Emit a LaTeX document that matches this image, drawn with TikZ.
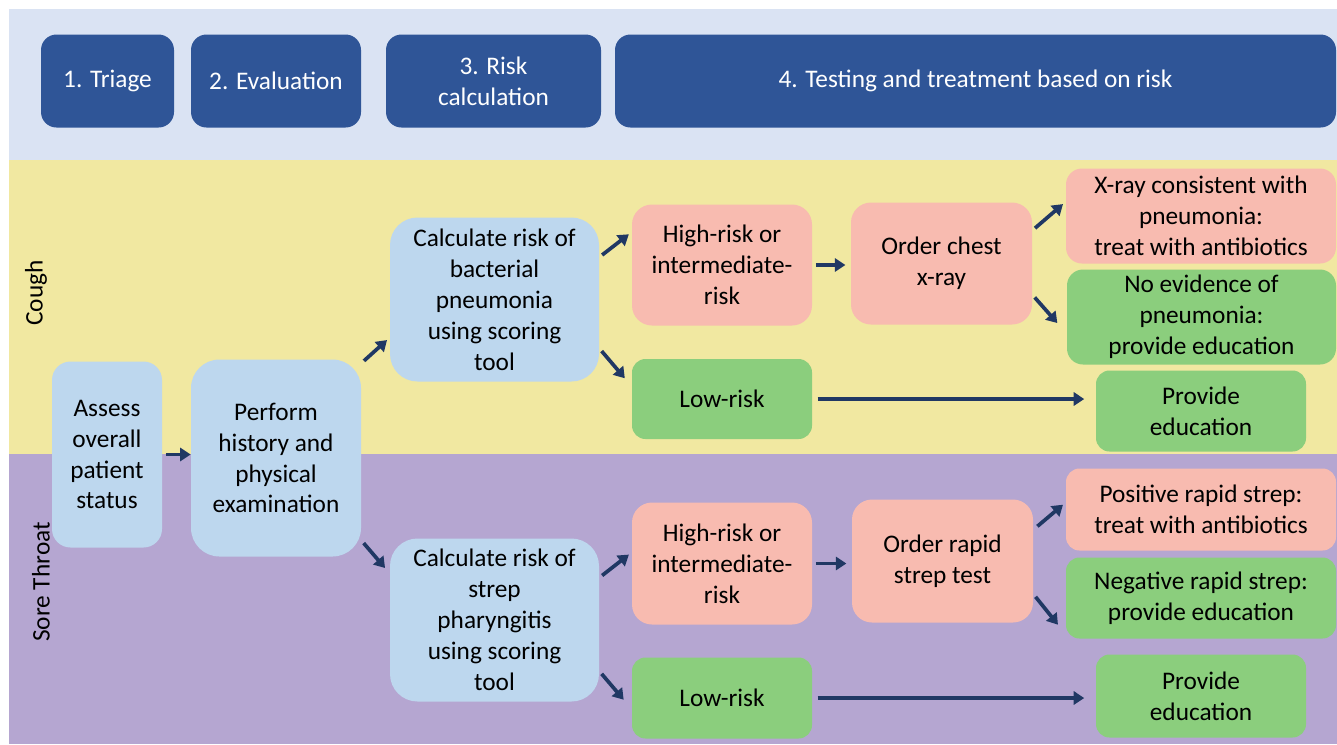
\documentclass[tikz,border=0pt]{standalone}
\usepackage{fontspec}
\setmainfont{Carlito}
\usetikzlibrary{arrows.meta}

\definecolor{bandblue}{HTML}{DAE3F3}
\definecolor{bandyellow}{HTML}{F1E8A1}
\definecolor{bandpurple}{HTML}{B5A6D1}
\definecolor{headblue}{HTML}{2F5597}
\definecolor{stepblue}{HTML}{BDD7EE}
\definecolor{riskpink}{HTML}{F8BBB0}
\definecolor{safegreen}{HTML}{8BCE7D}
\definecolor{arrownavy}{HTML}{203864}

\begin{document}
\begin{tikzpicture}[
    font=\fontsize{14.4}{17.6}\selectfont,
    box/.style={inner sep=0pt, align=center, text=black},
    head/.style={box, fill=headblue, text=white, minimum height=1.86cm, rounded corners=0.31cm},
    stepbox/.style={box, fill=stepblue},
    riskbox/.style={box, fill=riskpink},
    safebox/.style={box, fill=safegreen},
    lane/.style={inner sep=0pt, rotate=90},
    arr/.style={draw=arrownavy, line width=2.1pt, -{Triangle[length=6pt,width=7.5pt]},
        shorten <=2pt, shorten >=2pt}
]
% Background
\useasboundingbox (0,0) rectangle (26.74,-14.88);
\fill[bandblue] (0.18,-0.18) rectangle (26.74,-3.20);
\fill[bandyellow] (0.18,-3.20) rectangle (26.74,-9.08);
\fill[bandpurple] (0.18,-9.08) rectangle (26.74,-14.88);

% Header
\node[head, minimum width=2.66cm] (triage) at (2.15, -1.62) {1. Triage};
\node[head, minimum width=3.40cm] (evalh) at (5.52, -1.62) {2. Evaluation};
\node[head, minimum width=4.30cm] (riskh) at (9.87, -1.62) {3. Risk\\calculation};
\node[head, minimum width=14.42cm] (testh) at (19.51, -1.62) {4. Testing and treatment based on risk};

% Lanes
\node[lane] (cough) at (0.72, -5.86) {Cough};
\node[lane] (sore) at (0.82, -11.64) {Sore Throat};

% Nodes
\node[stepbox, minimum width=2.20cm, minimum height=3.72cm, rounded corners=0.37cm] (assess) at (2.14, -9.09) {Assess\\overall\\patient\\status};
\node[stepbox, minimum width=3.40cm, minimum height=3.94cm, rounded corners=0.57cm] (perform) at (5.52, -9.16) {Perform\\history and\\physical\\examination};
\node[stepbox, minimum width=4.18cm, minimum height=3.28cm, rounded corners=0.55cm] (calcp) at (9.89, -5.99) {Calculate risk of\\bacterial\\pneumonia\\using scoring\\tool};
\node[stepbox, minimum width=4.18cm, minimum height=3.26cm, rounded corners=0.55cm] (calcs) at (9.89, -12.40) {Calculate risk of\\strep\\pharyngitis\\using scoring\\tool};

\node[riskbox, minimum width=3.60cm, minimum height=2.42cm, rounded corners=0.40cm] (highc) at (14.44, -5.30) {High-risk or\\intermediate-\\risk};
\node[safebox, minimum width=3.60cm, minimum height=1.60cm, rounded corners=0.27cm] (lowc) at (14.44, -7.98) {Low-risk};
\node[riskbox, minimum width=3.62cm, minimum height=2.44cm, rounded corners=0.40cm] (orderc) at (18.83, -5.27) {Order chest\\x-ray};
\node[riskbox, minimum width=5.40cm, minimum height=1.90cm, rounded corners=0.32cm] (xray) at (24.02, -4.32) {X-ray consistent with\\pneumonia:\\treat with antibiotics};
\node[safebox, minimum width=5.38cm, minimum height=1.90cm, rounded corners=0.32cm] (noev) at (24.03, -6.34) {No evidence of\\pneumonia:\\provide education};
\node[safebox, minimum width=4.20cm, minimum height=1.62cm, rounded corners=0.27cm] (provc) at (24.02, -8.22) {Provide\\education};

\node[riskbox, minimum width=3.60cm, minimum height=2.44cm, rounded corners=0.40cm] (highs) at (14.44, -11.27) {High-risk or\\intermediate-\\risk};
\node[safebox, minimum width=3.60cm, minimum height=1.62cm, rounded corners=0.27cm] (lows) at (14.44, -13.96) {Low-risk};
\node[riskbox, minimum width=3.62cm, minimum height=2.46cm, rounded corners=0.40cm] (orders) at (18.85, -11.22) {Order rapid\\strep test};
\node[riskbox, minimum width=5.40cm, minimum height=1.64cm, rounded corners=0.27cm] (pos) at (24.02, -10.19) {Positive rapid strep:\\treat with antibiotics};
\node[safebox, minimum width=5.40cm, minimum height=1.62cm, rounded corners=0.27cm] (neg) at (24.02, -11.96) {Negative rapid strep:\\provide education};
\node[safebox, minimum width=4.20cm, minimum height=1.66cm, rounded corners=0.27cm] (provs) at (24.02, -13.92) {Provide\\education};

% Connections
\draw[arr, shorten >=0pt] (assess.east) -- (assess.east -| perform.west);
\draw[arr] (perform.48) -- (calcp.200);
\draw[arr, shorten >=4pt] (perform.-44) -- (calcs.156);

\draw[arr] (calcp.22) -- (highc.160);
\draw[arr, shorten >=6pt] (calcp.-25) -- (lowc.172);
\draw[arr, shorten >=3pt] (highc.east) -- (highc.east -| orderc.west);
\draw[arr] (orderc.20) -- (xray.174);
\draw[arr, shorten >=8pt] (orderc.-19) -- (noev.187);
\draw[arr, shorten <=3pt, shorten >=6.5pt] (lowc.east) -- (lowc.east -| provc.west);

\draw[arr] (calcs.22) -- (highs.173);
\draw[arr, shorten >=7pt] (calcs.-26) -- (lows.187);
\draw[arr, shorten >=3pt] (highs.east) -- (highs.east -| orders.west);
\draw[arr, shorten <=3pt] (orders.19) -- (pos.177);
\draw[arr, shorten >=7pt] (orders.-20) -- (neg.195);
\draw[arr, shorten <=3pt, shorten >=6.5pt] (lows.east) -- (lows.east -| provs.west);
\end{tikzpicture}
\end{document}
